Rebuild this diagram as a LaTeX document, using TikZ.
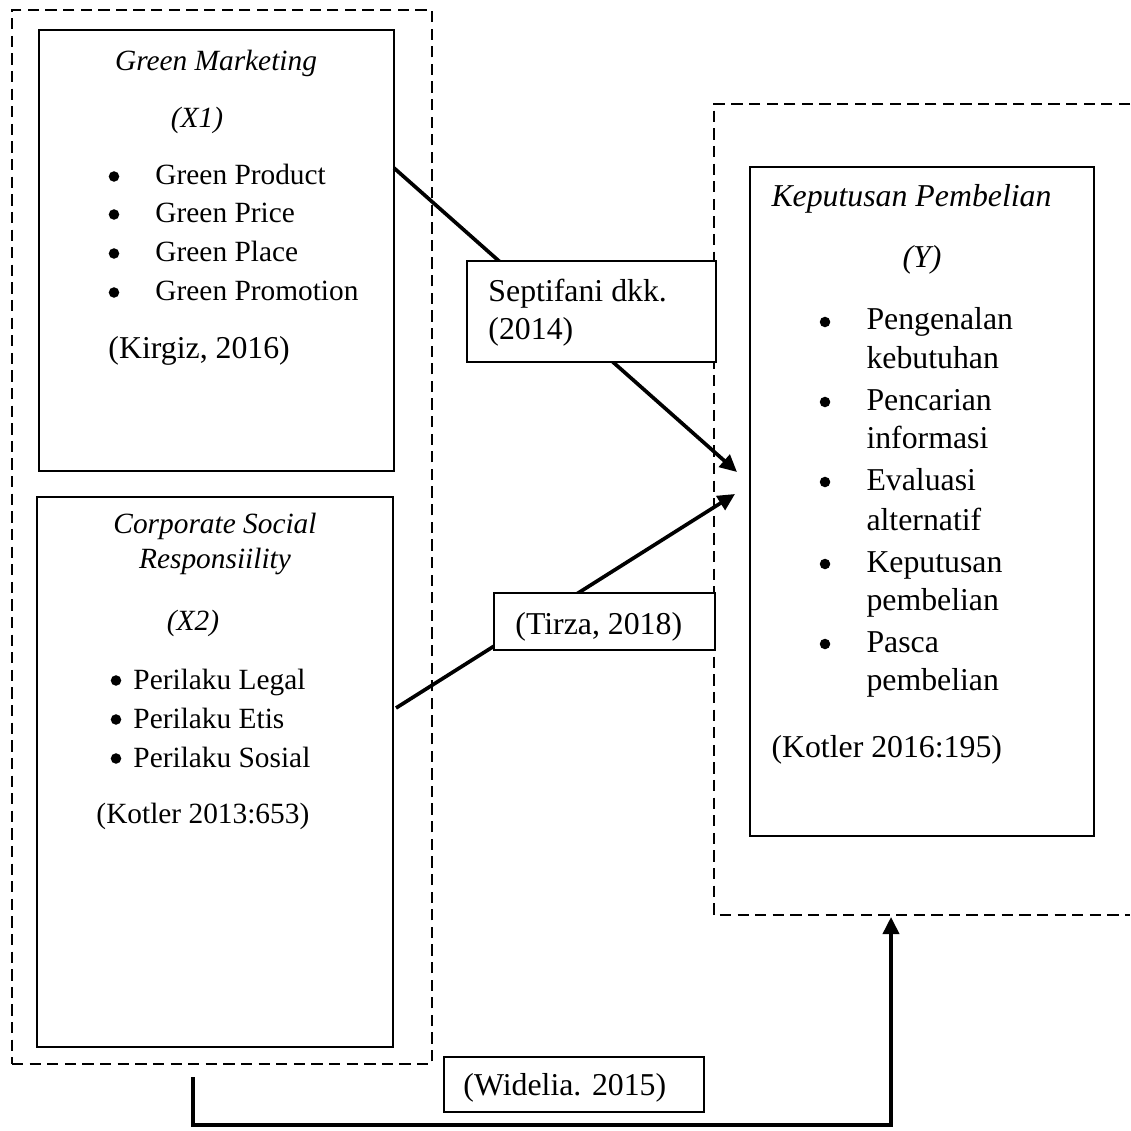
\documentclass[tikz,border=0pt]{standalone}
\usepackage{fontspec}
\setmainfont{Liberation Serif}
\usetikzlibrary{arrows.meta,fit}
\begin{document}
\begin{tikzpicture}[x=0.4088pt,y=-0.4088pt,
  box/.style={draw, line width=0.6pt, inner sep=0pt},
  dbox/.style={draw, line width=0.8pt, dash pattern=on 4.6pt off 2.6pt},
  lbl/.style={draw, line width=0.6pt, fill=white, inner sep=0pt},
  txt/.style={inner sep=0pt, anchor=base west, font=\fontsize{12pt}{14pt}\selectfont},
  btxt/.style={inner sep=0pt, anchor=base west, font=\fontsize{13pt}{15pt}\selectfont},
  itx/.style={inner sep=0pt, anchor=base, font=\fontsize{12pt}{14pt}\selectfont\itshape},
  bitx/.style={inner sep=0pt, anchor=base, font=\fontsize{13pt}{15pt}\selectfont\itshape},
  bul/.style={circle, fill, inner sep=0pt, minimum size=4.3pt},
  conn/.style={line width=1.5pt},
  arr/.style={conn, -{Triangle[length=7pt,width=6.6pt]}}]
\useasboundingbox (0,0) rectangle (1130,1131);

% frame corners
\coordinate (oL1) at (12,10);   \coordinate (oL2) at (432,1064);
\coordinate (x1a) at (39,30);   \coordinate (x1b) at (394,471);
\coordinate (x2a) at (37,497);  \coordinate (x2b) at (393,1047);
\coordinate (ya) at (750,167);  \coordinate (yb) at (1094,836);
\coordinate (sa) at (467,261);  \coordinate (sb) at (716,362);
\coordinate (ta) at (494,593);  \coordinate (tb) at (715,650);
\coordinate (wa) at (444,1057); \coordinate (wb) at (704,1112);

% dashed groups
\node[dbox, inner sep=0pt, fit=(oL1)(oL2)] (outerL) {};
\coordinate (oR1) at (1130,104); \coordinate (oR2) at (714,104);
\coordinate (oR3) at (714,915);  \coordinate (oR4) at (1130,915);
\draw[dbox] (oR1) -- (oR2) -- (oR3) -- (oR4);

% main boxes
\node[box, fit=(x1a)(x1b)] (X1) {};
\node[box, fit=(x2a)(x2b)] (X2) {};
\node[box, fit=(ya)(yb)] (Y) {};

% connectors
\coordinate (a1s) at (394,168); \coordinate (a1e) at (737,472);
\coordinate (a2s) at (396,708); \coordinate (a2e) at (735,494);
\draw[arr] (a1s) -- (a1e);
\draw[arr] (a2s) -- (a2e);
\coordinate (b1) at (193,1077); \coordinate (b2) at (193,1125);
\coordinate (b3) at (891,1125); \coordinate (b4) at (891,917);
\draw[arr] (b1) -- (b2) -- (b3) -- (b4);

% label boxes
\node[lbl, fit=(sa)(sb)] (S) {};
\node[lbl, fit=(ta)(tb)] (T) {};
\node[lbl, fit=(wa)(wb)] (W) {};

% X1 texts
\node[itx] (x1t) at (216,71) {Green Marketing};
\node[itx] (x1v) at (197,128) {(X1)};
\node[bul] (x1b1) at (114,176.5) {}; \node[txt] (x1i1) at (155,185) {Green Product};
\node[bul] (x1b2) at (114,214.5) {}; \node[txt] (x1i2) at (155,223) {Green Price};
\node[bul] (x1b3) at (114,253.5) {}; \node[txt] (x1i3) at (155,262) {Green Place};
\node[bul] (x1b4) at (114,292.5) {}; \node[txt] (x1i4) at (155,301) {Green Promotion};
\node[btxt] (x1r) at (108,358) {(Kirgiz, 2016)};

% X2 texts
\node[itx] (x2t) at (215,533) {Corporate Social};
\node[itx] (x2t2) at (215,568) {Responsiility};
\node[itx] (x2v) at (193,630) {(X2)};
\node[bul] (x2b1) at (116,680.5) {}; \node[txt] (x2i1) at (133,689) {Perilaku Legal};
\node[bul] (x2b2) at (116,719.5) {}; \node[txt] (x2i2) at (133,728) {Perilaku Etis};
\node[bul] (x2b3) at (116,758.5) {}; \node[txt] (x2i3) at (133,767) {Perilaku Sosial};
\node[txt] (x2r) at (96,823) {(Kotler 2013:653)};

% Y texts
\node[bitx, anchor=base west] (yt) at (771,207) {Keputusan Pembelian};
\node[bitx] (yv) at (922,268) {(Y)};
\node[bul] (yb1) at (825,322) {}; \node[btxt] (yi1a) at (866,330) {Pengenalan};
\node[btxt] (yi1b) at (866,368) {kebutuhan};
\node[bul] (yb2) at (825,402) {}; \node[btxt] (yi2a) at (866,410) {Pencarian};
\node[btxt] (yi2b) at (866,448) {informasi};
\node[bul] (yb3) at (825,482) {}; \node[btxt] (yi3a) at (866,490) {Evaluasi};
\node[btxt] (yi3b) at (866,530) {alternatif};
\node[bul] (yb4) at (825,564) {}; \node[btxt] (yi4a) at (866,572) {Keputusan};
\node[btxt] (yi4b) at (866,610) {pembelian};
\node[bul] (yb5) at (825,644) {}; \node[btxt] (yi5a) at (866,652) {Pasca};
\node[btxt] (yi5b) at (866,690) {pembelian};
\node[btxt] (yr) at (771,757) {(Kotler 2016:195)};

% label texts
\node[btxt] (st1) at (488,302) {Septifani dkk.};
\node[btxt] (st2) at (488,340) {(2014)};
\node[btxt] (tt) at (515,634) {(Tirza, 2018)};
\node[btxt] (wt) at (463,1095) {(Widelia. 2015)};
\end{tikzpicture}
\end{document}
